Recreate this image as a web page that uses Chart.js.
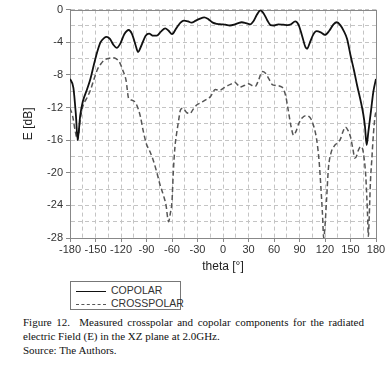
<!DOCTYPE html>
<html>
<head>
<meta charset="utf-8">
<script src="https://cdn.jsdelivr.net/npm/chart.js@4"></script>
<style>
  body { margin: 0; background: #fff; }
  #wrap { position: absolute; left: 0; top: 0; width: 391px; height: 278px; }
  #legend {
    position: absolute; left: 70px; top: 281px; width: 111px; height: 29px;
    box-sizing: border-box; border: 1px solid #777;
    font: 10.5px "Liberation Sans", Arial, sans-serif; color: #333;
  }
  .row { position: absolute; left: 5px; height: 12px; line-height: 12px; white-space: nowrap; }
  .row span.ln { display: inline-block; width: 30px; vertical-align: middle; margin-right: 5px; }
  #caption {
    position: absolute; left: 23px; top: 315px; width: 341px;
    font: 11px "Liberation Serif", "Times New Roman", serif; line-height: 14px; color: #111;
  }
  #caption .just { text-align: justify; text-align-last: justify; }
</style>
</head>
<body>
<div id="wrap"><canvas id="chart_xz" width="391" height="278"></canvas></div>
<div id="legend">
  <div class="row" style="top:2px"><span class="ln" style="border-top:1.5px solid #111"></span>COPOLAR</div>
  <div class="row" style="top:15px"><span class="ln" style="border-top:1.5px dashed #555"></span>CROSSPOLAR</div>
</div>
<div id="caption">
  <div class="just">Figure 12.&nbsp; Measured crosspolar and copolar components for the radiated</div>
  <div>electric Field (E) in the XZ plane at 2.0GHz.</div>
  <div>Source: The Authors.</div>
</div>
<script>
// values (theta in degrees, E in dB)
const copolarTheta = [-180, -176, -173, -171, -168, -165, -160, -156, -152, -148, -144, -140, -137, -133, -129, -125,
  -121, -116, -111, -107, -103, -100, -96, -91, -87, -82, -78, -73, -68, -64, -60, -55, -50, -46, -41, -37, -32, -27,
  -22, -17, -12, -7, -2, 3, 8, 13, 18, 22, 27, 32, 36, 40, 44, 48, 52, 56, 60, 65, 71, 76, 80, 85, 89, 93, 97, 99,
  102, 106, 110, 115, 120, 125, 130, 134, 138, 142, 146, 150, 154, 158, 162, 165, 167, 169, 171, 174, 177, 180];
const copolarDb = [-8.5, -9.6, -13, -16, -13, -11.3, -9.8, -8.5, -6.8, -5.2, -4.0, -3.5, -3.35, -3.6, -4.3, -4.7,
  -4.2, -3.0, -2.5, -3.0, -4.3, -5.2, -4.4, -3.2, -2.95, -3.2, -3.2, -2.7, -2.3, -2.6, -3.0, -2.3, -1.6, -1.35, -1.45,
  -1.6, -1.35, -1.1, -0.95, -1.2, -1.6, -1.75, -1.8, -1.85, -1.95, -1.85, -1.65, -1.55, -1.65, -1.8, -1.4, -0.6, -0.1,
  -0.5, -1.3, -1.9, -1.95, -1.8, -1.85, -1.9, -1.8, -1.45, -1.9, -3.2, -4.6, -4.8, -4.1, -3.1, -2.65, -2.8, -3.1, -2.6,
  -1.8, -1.55, -1.9, -2.6, -3.6, -5.6, -7.4, -9.4, -11.2, -12.8, -14.3, -16.6, -15, -12.5, -10, -8.5];

const crossTheta = [-180, -177, -174, -171, -168, -165, -160, -156, -152, -148, -144, -140, -135, -130, -126, -122,
  -118, -114, -111, -107, -103, -100, -97, -94, -90, -86, -82, -78, -74, -70, -67, -65, -64, -62, -60, -58.5, -56.5,
  -55, -52.5, -50, -47, -43, -39, -35, -31, -26, -21, -15, -9, -4, 1, 6, 10, 14, 17, 20, 25, 30, 34, 38, 42, 46, 50,
  54, 58, 62, 67, 71, 74, 77, 80, 83, 86, 89, 93, 97, 101, 104, 107, 110, 113, 115, 117, 118.5, 120, 122, 124, 127,
  131, 135, 138, 141, 144, 147, 150, 153, 155, 157, 159, 162, 164, 166, 168, 170, 171, 172, 173.5, 175, 177, 179, 180];
const crossDb = [-12.1, -13, -14.8, -16, -13.5, -11.9, -10.8, -9.9, -8.6, -7.4, -6.7, -6.2, -6.0, -5.9, -6.0, -6.4,
  -7.4, -8.7, -10.9, -11.1, -11.4, -12.1, -13.2, -14.8, -16.5, -17.4, -18.5, -19.9, -21.5, -22.8, -24.0, -25.6, -26.0,
  -25, -23.5, -20, -16.8, -15.5, -13.8, -12.3, -12.1, -12.6, -12.75, -12.2, -11.7, -11.4, -11.1, -10.7, -9.8, -9.9,
  -9.6, -9.3, -9.1, -8.9, -9.2, -9.5, -9.3, -9.1, -9.3, -9.4, -8.6, -7.6, -7.8, -8.5, -9.2, -9.3, -9.4, -9.7, -10.7,
  -12.5, -14.3, -15.4, -14.9, -14.0, -13.3, -13.0, -13.1, -13.5, -14.4, -15.8, -18.5, -21.5, -25, -28, -26.5, -23,
  -19.5, -17.6, -16.7, -16.3, -15.9, -15.0, -14.4, -14.8, -15.6, -17.2, -18.2, -18.0, -17.3, -16.8, -17.0, -18.2,
  -20.5, -25, -27.8, -25.5, -21, -18.5, -15.2, -13, -12.5];

const seriesNames = ["COPOLAR", "CROSSPOLAR"];

function toPoints(xs, ys) {
  return xs.map((x, i) => ({ x: x, y: ys[i] }));
}

const tickFont = { family: "Liberation Sans", size: 11 };
const titleFont = { family: "Liberation Sans", size: 12 };

// solid frame around the plot area
const framePlugin = {
  id: "frame",
  beforeDatasetsDraw(chart) {
    const a = chart.chartArea;
    const c = chart.ctx;
    c.save();
    c.strokeStyle = "#888";
    c.lineWidth = 1;
    c.strokeRect(Math.round(a.left) + 0.5, Math.round(a.top) + 0.5, Math.round(a.right - a.left), Math.round(a.bottom - a.top));
    c.restore();
  },
};

var ctx = document.getElementById("chart_xz").getContext("2d");
var myChart = new Chart(ctx, {
  type: "line",
  data: {
    datasets: [
      {
        label: seriesNames[0],
        data: toPoints(copolarTheta, copolarDb),
        borderColor: "#111",
        borderWidth: 1.8,
        pointRadius: 0,
        cubicInterpolationMode: "monotone",
      },
      {
        label: seriesNames[1],
        data: toPoints(crossTheta, crossDb),
        borderColor: "#555",
        borderWidth: 1.5,
        borderDash: [5, 3],
        pointRadius: 0,
        cubicInterpolationMode: "monotone",
      },
    ],
  },
  options: {
    responsive: false,
    animation: false,
    layout: { padding: { top: 9, right: 15, left: 0, bottom: 0 } },
    plugins: {
      legend: { display: false },
      tooltip: { enabled: false },
    },
    scales: {
      x: {
        type: "linear",
        min: -180,
        max: 180,
        afterFit: (s) => { s.height = 40; },
        ticks: {
          stepSize: 15,
          autoSkip: false,
          maxRotation: 0,
          padding: 1,
          color: "#333",
          font: tickFont,
          callback: (v) => (v % 30 === 0 ? v : ""),
        },
        grid: {
          color: "#c4c4c4",
          tickLength: 4,
          tickColor: (c) => (c.tick && c.tick.value % 30 === 0 ? "#888" : "rgba(0,0,0,0)"),
        },
        border: { display: true, color: "#888", dash: [4, 3] },
        title: {
          display: true,
          text: "theta [°]",
          color: "#222",
          font: titleFont,
          padding: { top: 4, bottom: 4 },
        },
      },
      y: {
        min: -28,
        max: 0,
        afterFit: (s) => { s.width = 70; },
        ticks: {
          stepSize: 2,
          autoSkip: false,
          padding: 3,
          color: "#333",
          font: tickFont,
          callback: (v) => (v % 4 === 0 ? v : ""),
        },
        grid: {
          color: "#c4c4c4",
          tickLength: 4,
          tickColor: (c) => (c.tick && c.tick.value % 4 === 0 ? "#888" : "rgba(0,0,0,0)"),
        },
        border: { display: true, color: "#888", dash: [4, 3] },
        title: {
          display: true,
          text: "E [dB]",
          color: "#222",
          font: titleFont,
          padding: { top: 21, bottom: 21 },
        },
      },
    },
  },
  plugins: [framePlugin],
});
</script>
</body>
</html>
